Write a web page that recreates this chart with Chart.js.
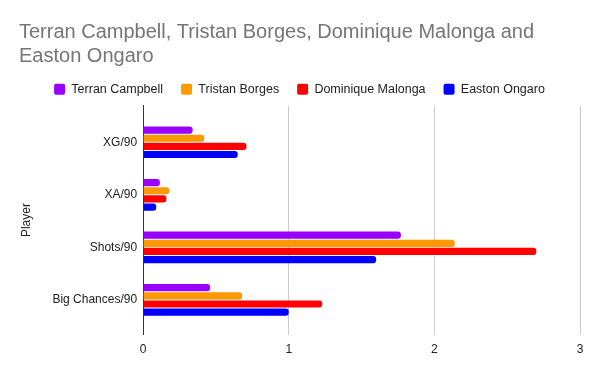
<!DOCTYPE html>
<html>
<head>
<meta charset="utf-8">
<script src="https://cdn.jsdelivr.net/npm/chart.js@4"></script>
<style>
  html, body { margin: 0; padding: 0; background: #fff; }
  #wrap { width: 600px; height: 371px; position: relative; }
</style>
</head>
<body>
<div id="wrap"><canvas id="myChart"></canvas></div>
<script>
var categories = ['XG/90', 'XA/90', 'Shots/90', 'Big Chances/90'];
var terranCampbell = [0.34, 0.115, 1.77, 0.46];
var tristanBorges = [0.42, 0.18, 2.14, 0.68];
var dominiqueMalonga = [0.71, 0.16, 2.70, 1.23];
var eastonOngaro = [0.65, 0.09, 1.60, 1.00];
var xTicks = [0, 1, 2, 3];

var fontFamily = '"Liberation Sans", Arial, sans-serif';

function series(label, values, color) {
    return {
        label: label,
        // y is the category index, so the band can be padded like the original
        data: values.map(function(v, i) { return { x: v, y: i }; }),
        backgroundColor: color,
        borderColor: color,
        borderWidth: 0,
        borderRadius: 3,
        borderSkipped: 'start',
        categoryPercentage: 0.62,
        barPercentage: 0.88
    };
}

var ctx = document.getElementById('myChart');
var myChart = new Chart(ctx, {
    type: 'bar',
    data: {
        datasets: [
            series('Terran Campbell', terranCampbell, '#9900ff'),
            series('Tristan Borges', tristanBorges, '#ff9900'),
            series('Dominique Malonga', dominiqueMalonga, '#ff0000'),
            series('Easton Ongaro', eastonOngaro, '#0000ff')
        ]
    },
    options: {
        indexAxis: 'y',
        responsive: true,
        maintainAspectRatio: false,
        animation: false,
        layout: { padding: { left: 19, right: 20, top: 14, bottom: 6 } },
        plugins: {
            title: {
                display: true,
                text: ['Terran Campbell, Tristan Borges, Dominique Malonga and', 'Easton Ongaro'],
                align: 'start',
                color: '#757575',
                font: { family: fontFamily, size: 20, weight: 'normal', lineHeight: 1.2 },
                padding: { top: 6, bottom: -3 }
            },
            legend: {
                display: true,
                position: 'top',
                labels: {
                    color: '#222',
                    font: { family: fontFamily, size: 12.5 },
                    boxWidth: 11,
                    boxHeight: 11,
                    useBorderRadius: true,
                    borderRadius: 2,
                    padding: 18
                }
            },
            tooltip: { enabled: false }
        },
        scales: {
            x: {
                type: 'linear',
                min: 0,
                max: 3,
                afterBuildTicks: function(axis) {
                    axis.ticks = xTicks.map(function(v) { return { value: v }; });
                },
                grid: { color: '#cccccc', drawTicks: false },
                border: { display: false },
                ticks: {
                    color: '#222',
                    font: { family: fontFamily, size: 12 },
                    padding: 8
                }
            },
            y: {
                type: 'linear',
                reverse: true,
                offset: false,
                min: -0.7,
                max: categories.length - 1 + 0.66,
                afterBuildTicks: function(axis) {
                    axis.ticks = categories.map(function(c, i) { return { value: i }; });
                },
                grid: { display: false, drawTicks: false },
                border: { display: true, color: '#333', width: 1 },
                title: {
                    display: true,
                    text: 'Player',
                    color: '#222',
                    font: { family: fontFamily, size: 12 },
                    padding: { top: 0, bottom: 13 }
                },
                ticks: {
                    color: '#222',
                    font: { family: fontFamily, size: 12 },
                    padding: 6,
                    autoSkip: false,
                    callback: function(value) { return categories[value]; }
                }
            }
        }
    }
});
</script>
</body>
</html>
